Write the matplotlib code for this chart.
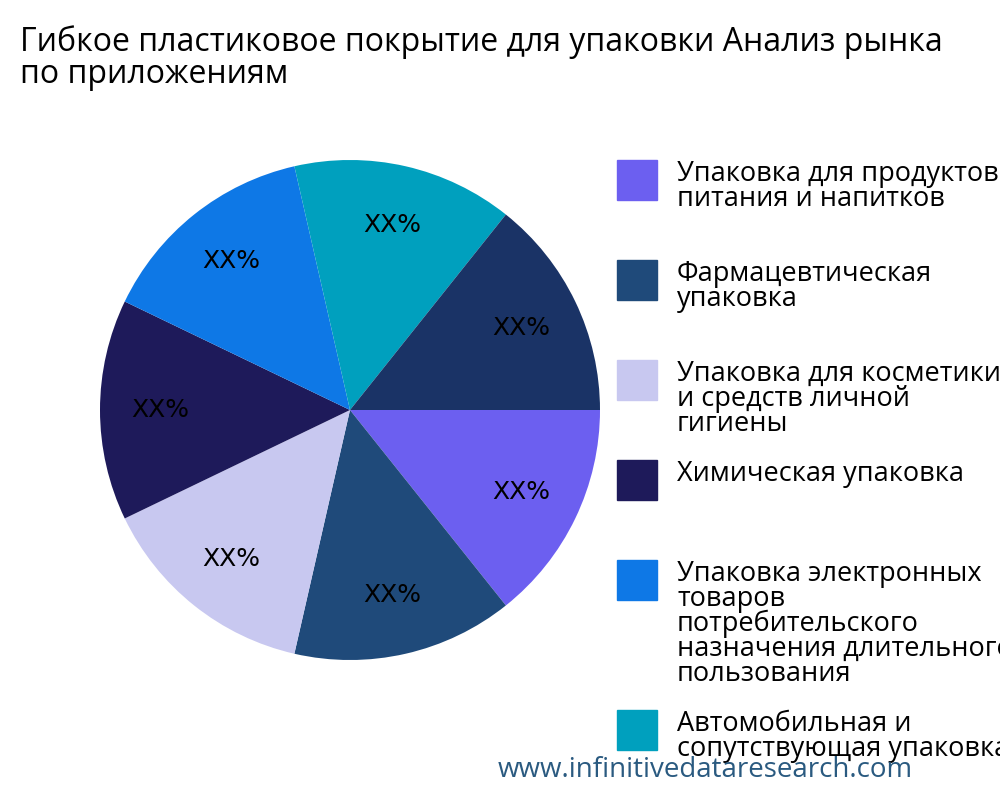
import matplotlib
matplotlib.use("Agg")
import matplotlib.pyplot as plt
from matplotlib.patches import Rectangle

title = "Гибкое пластиковое покрытие для упаковки Анализ рынка\nпо приложениям"
categories = ["Упаковка для продуктов\nпитания и напитков", "Фармацевтическая\nупаковка",
              "Упаковка для косметики\nи средств личной\nгигиены", "Химическая упаковка",
              "Упаковка электронных\nтоваров\nпотребительского\nназначения длительного\nпользования",
              "Автомобильная и\nсопутствующая упаковка", "Другие"]
values = [1, 1, 1, 1, 1, 1, 1]
colors = ["#6C5FF0", "#1F4A7A", "#C8C8F0", "#1E1A5A", "#0E78E6", "#00A0BE", "#1A3366"]
legend_y = [180, 280, 380, 480, 580, 730]

fig = plt.figure(figsize=(10, 8), dpi=100)
ax = fig.add_axes([0.1, 0.175, 0.5, 0.625])
ax.pie(values, colors=colors, startangle=0, counterclock=False,
       autopct=lambda p: "XX%", pctdistance=0.76,
       textprops=dict(fontsize=18, color="black"))
ax.set_aspect("equal")
ax.set_xlim(-1, 1)
ax.set_ylim(-1, 1)

fig.text(0.02, 0.968, title, fontsize=23, family="Open Sans", va="top", ha="left", linespacing=0.95)
for i, y in enumerate(legend_y):
    fig.patches.append(Rectangle((617/1000, 1 - (y+20)/800), 0.04, 0.05,
                                 transform=fig.transFigure, color=colors[i]))
    fig.text(0.677, 1 - (y-20)/800, categories[i], fontsize=19.5, family="Open Sans",
             va="top", ha="left", linespacing=0.85)
fig.text(0.498, 0.037, "www.infinitivedataresearch.com", fontsize=20, family="Open Sans",
         color="#2A5A80", ha="left", va="center")
fig.savefig("out.png")
